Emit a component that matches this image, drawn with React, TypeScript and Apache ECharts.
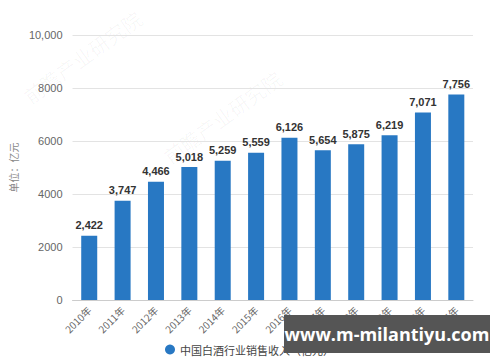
import React, { useEffect, useRef } from "react";
import * as echarts from "echarts";

const categories = ["2010年", "2011年", "2012年", "2013年", "2014年", "2015年", "2016年", "2017年", "2018年", "2020年", "2023年", "2025年"];
const revenue = [2422, 3747, 4466, 5018, 5259, 5559, 6126, 5654, 5875, 6219, 7071, 7756];
const seriesName = "中国白酒行业销售收入（亿元）";
const yAxisName = "单位：亿元";
const overlayText = "www.m-milantiyu.com";

export default function App() {
  const ref = useRef<HTMLDivElement>(null);
  useEffect(() => {
    const chart = echarts.init(ref.current!, null, { renderer: "svg" });
    chart.setOption({
      animation: false,
      backgroundColor: "#ffffff",
      grid: { left: 68, right: 27, top: 35, bottom: 62, containLabel: false },
      legend: {
        data: [{ name: seriesName, icon: "circle" }],
        left: 163,
        top: 342,
        itemWidth: 10,
        itemHeight: 10,
        itemGap: 6,
        padding: 2,
        textStyle: { fontSize: 11, color: "#444", fontFamily: "Noto Sans CJK SC" },
      },
      xAxis: {
        type: "category",
        data: categories,
        axisTick: { alignWithLabel: true, length: 4, lineStyle: { color: "#bbb" } },
        axisLine: { lineStyle: { color: "#ccc" } },
        axisLabel: {
          rotate: 45,
          interval: 0,
          fontSize: 10,
          color: "#666",
          margin: 8,
          fontFamily: "Noto Sans CJK SC",
        },
      },
      yAxis: {
        type: "value",
        min: 0,
        max: 10000,
        interval: 2000,
        name: yAxisName,
        nameLocation: "middle",
        nameGap: 44,
        nameRotate: 90,
        nameTextStyle: { fontSize: 10, color: "#888", fontFamily: "Noto Sans CJK SC" },
        axisLine: { show: false },
        axisTick: { show: false },
        axisLabel: {
          fontSize: 11,
          color: "#666",
          margin: 10,
          formatter: (v: number) => (v >= 10000 ? v.toLocaleString("en-US") : String(v)),
        },
        splitLine: { lineStyle: { color: "#e3e3e3" } },
      },
      series: [
        {
          name: seriesName,
          type: "bar",
          data: revenue,
          barWidth: 16,
          itemStyle: { color: "#2878C3" },
          label: {
            show: true,
            position: "top",
            fontSize: 11,
            fontWeight: "bold",
            color: "#333",
            distance: 5,
            formatter: (p: any) => Number(p.value).toLocaleString("en-US"),
          },
        },
      ],
      graphic: [
        {
          type: "text",
          x: 20,
          y: 90,
          rotation: Math.PI / 5,
          style: { text: "前瞻产业研究院", fontSize: 20, fill: "rgba(0,0,0,0.035)", fontFamily: "Noto Sans CJK SC" },
          z: 0,
        },
        {
          type: "text",
          x: 160,
          y: 150,
          rotation: Math.PI / 5,
          style: { text: "前瞻产业研究院", fontSize: 20, fill: "rgba(0,0,0,0.035)", fontFamily: "Noto Sans CJK SC" },
          z: 0,
        },
        {
          type: "rect",
          shape: { x: 284, y: 315, width: 206, height: 38 },
          style: { fill: "#555555" },
          z: 100,
        },
        {
          type: "text",
          x: 387,
          y: 334,
          style: {
            text: overlayText,
            fontSize: 18,
            fontWeight: "bold",
            fill: "#ffffff",
            align: "center",
            verticalAlign: "middle",
            fontFamily: "Open Sans",
          },
          z: 101,
        },
      ],
    });
    return () => chart.dispose();
  }, []);
  return <div ref={ref} style={{ width: 500, height: 362, position: "absolute", left: 0, top: 0 }} />;
}
